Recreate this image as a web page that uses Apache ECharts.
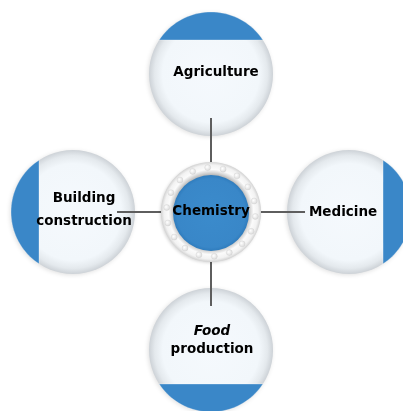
<!DOCTYPE html>
<html>
<head>
<meta charset="utf-8">
<script src="https://cdn.jsdelivr.net/npm/echarts@6/dist/echarts.min.js"></script>
<style>html,body{margin:0;padding:0;background:#fff;}#main{width:403px;height:411px;}</style>
</head>
<body>
<div id="main"></div>
<script>
// ---- data ----
const hubName = 'Chemistry';
const hubX = [0];
const hubY = [0];
const nodeNames = ['Agriculture', 'Medicine', 'Food\nproduction', 'Building\nconstruction'];
const nodeX = [0, 1, 0, -1];
const nodeY = [1, 0, -1, 0];

// ---- styles (not data) ----
const labelShift = [[5, -1], [-6, 1], [1, -9], [11, -2]];
const labelLineHeight = [18, 18, 18, 23];
const BLUE = '#3a87c8';
const FONT = '"DejaVu Sans", sans-serif';
const FS = 13.5;
const TXT = '#000';
const NODE_R = 62, CAP_D = 34, HUB_R = 50, HUB_IN = 38;

const chart = echarts.init(document.getElementById('main'), null, {renderer: 'canvas'});

function hubPx(api) { return api.coord([hubX[0], hubY[0]]); }

function nodeItem(params, api) {
  const i = params.dataIndex;
  const p = api.coord([api.value(0), api.value(1)]);
  const c = hubPx(api);
  let ux = p[0] - c[0], uy = p[1] - c[1];
  const len = Math.hypot(ux, uy); ux /= len; uy /= len;
  const base = Math.atan2(uy, ux);
  const a = Math.acos(CAP_D / NODE_R);
  const pts = [];
  for (let k = 0; k <= 40; k++) {
    const t = base - a + (2 * a) * k / 40;
    pts.push([p[0] + NODE_R * Math.cos(t), p[1] + NODE_R * Math.sin(t)]);
  }
  const name = nodeNames[i];
  const lines = name.split('\n');
  let text, rich;
  if (name.indexOf('Food') === 0) {
    text = '{it|' + lines[0] + '}\n{b|' + lines[1] + '}';
    rich = {
      it: {font: 'italic bold ' + FS + 'px ' + FONT, fill: TXT, lineHeight: labelLineHeight[i]},
      b: {font: 'bold ' + FS + 'px ' + FONT, fill: TXT, lineHeight: labelLineHeight[i]}
    };
  } else {
    text = name;
  }
  return {
    type: 'group',
    children: [
      {
        type: 'circle',
        shape: {cx: p[0], cy: p[1], r: NODE_R},
        style: {
          fill: {type: 'radial', x: 0.5, y: 0.5, r: 0.5, colorStops: [
            {offset: 0, color: '#f5f9fd'}, {offset: 0.78, color: '#f2f7fb'},
            {offset: 0.91, color: '#e4e9ed'}, {offset: 1, color: '#cdd2d7'}]},
          shadowBlur: 4, shadowColor: 'rgba(0,0,0,0.12)', shadowOffsetX: -1, shadowOffsetY: 1
        }
      },
      {
        type: 'polygon',
        shape: {points: pts},
        style: {fill: BLUE, stroke: 'rgba(255,255,255,0.5)', lineWidth: 0.6}
      },
      {
        type: 'text',
        style: {
          text: text, rich: rich,
          x: p[0] + labelShift[i][0], y: p[1] + labelShift[i][1],
          align: 'center', verticalAlign: 'middle',
          font: 'bold ' + FS + 'px ' + FONT, fill: TXT, lineHeight: labelLineHeight[i]
        }
      }
    ]
  };
}

function linkItem(params, api) {
  const p = api.coord([api.value(0), api.value(1)]);
  const c = hubPx(api);
  let ux = p[0] - c[0], uy = p[1] - c[1];
  const len = Math.hypot(ux, uy); ux /= len; uy /= len;
  const r0 = HUB_R - 2, r1 = 94;
  return {
    type: 'line',
    shape: {x1: c[0] + ux * r0, y1: c[1] + uy * r0, x2: c[0] + ux * r1, y2: c[1] + uy * r1},
    style: {stroke: '#5e5e5e', lineWidth: 2}
  };
}

function hubItem(params, api) {
  const p = api.coord([api.value(0), api.value(1)]);
  const children = [
    {
      type: 'circle',
      shape: {cx: p[0], cy: p[1], r: HUB_R},
      style: {
        fill: {type: 'radial', x: 0.5, y: 0.5, r: 0.5, colorStops: [
          {offset: 0, color: '#ffffff'}, {offset: 0.74, color: '#b8b8b8'},
          {offset: 0.79, color: '#d8d8d8'}, {offset: 0.85, color: '#fbfbfb'},
          {offset: 0.94, color: '#f2f2f2'}, {offset: 1, color: '#d2d2d2'}]},
        shadowBlur: 3, shadowColor: 'rgba(0,0,0,0.15)', shadowOffsetX: -1, shadowOffsetY: 1
      }
    }
  ];
  const n = 18;
  for (let k = 0; k < n; k++) {
    const t = k / n * Math.PI * 2 + 0.1;
    const dx = p[0] + 44.5 * Math.cos(t), dy = p[1] + 44.5 * Math.sin(t);
    children.push({
      type: 'circle',
      shape: {cx: dx, cy: dy, r: 3},
      style: {
        fill: {type: 'radial', x: 0.4, y: 0.4, r: 0.6, colorStops: [
          {offset: 0, color: '#ffffff'}, {offset: 1, color: '#dadada'}]},
        stroke: 'rgba(190,190,190,0.5)', lineWidth: 0.5
      }
    });
  }
  children.push({
    type: 'circle',
    shape: {cx: p[0], cy: p[1] + 1, r: HUB_IN},
    style: {fill: {type: 'radial', x: 0.5, y: 0.5, r: 0.5, colorStops: [
      {offset: 0, color: '#3b8bcc'}, {offset: 0.9, color: '#3987c8'}, {offset: 1, color: '#2f7cbd'}]}}
  });
  children.push({
    type: 'text',
    style: {
      text: hubName, x: p[0], y: p[1], align: 'center', verticalAlign: 'middle',
      font: 'bold ' + FS + 'px ' + FONT, fill: TXT
    }
  });
  return {type: 'group', children: children};
}

const nodeData = nodeX.map((x, i) => [x, nodeY[i]]);

chart.setOption({
  animation: false,
  backgroundColor: '#ffffff',
  grid: {left: 0, right: 0, top: 0, bottom: 0},
  xAxis: {type: 'value', min: -1.529, max: 1.391, show: false},
  yAxis: {type: 'value', min: -1.442, max: 1.536, show: false},
  series: [
    {type: 'custom', coordinateSystem: 'cartesian2d', renderItem: nodeItem, data: nodeData, z: 1, clip: false},
    {type: 'custom', coordinateSystem: 'cartesian2d', renderItem: linkItem, data: nodeData, z: 2, clip: false},
    {type: 'custom', coordinateSystem: 'cartesian2d', renderItem: hubItem, data: [[hubX[0], hubY[0]]], z: 3, clip: false}
  ]
});
</script>
</body>
</html>
